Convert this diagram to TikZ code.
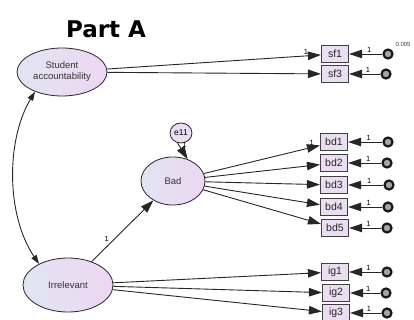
\documentclass[tikz,border=0pt]{standalone}
\usepackage{fontspec}
\setmainfont{Liberation Sans}
\newfontfamily\titlefont{DejaVu Sans}
\usetikzlibrary{arrows.meta,shapes.geometric}
\definecolor{latL}{RGB}{224,229,242}
\definecolor{latR}{RGB}{238,214,242}
\definecolor{obsF}{RGB}{236,222,242}
\begin{document}
\begin{tikzpicture}[x=1pt,y=-1pt,
 latent/.style={ellipse, draw=black!85, line width=0.8pt, left color=latL, right color=latR, inner sep=0pt, font=\fontsize{9.5}{11}\selectfont, align=center, text=black!80},
 obs/.style={rectangle, draw=black!75, line width=1.2pt, fill=obsF, minimum width=27pt, minimum height=17pt, inner sep=0pt, font=\fontsize{10.5}{10.5}\selectfont, text=black!85},
 err/.style={circle, draw=black!90, line width=2.2pt, fill=black!35, minimum size=9pt, inner sep=0pt},
 reg/.style={-{Triangle[length=13pt,width=8.5pt]}, line width=0.9pt, draw=black!85},
 lbl/.style={font=\fontsize{7.5}{7.5}\selectfont, inner sep=1pt}
]
\useasboundingbox (0,0) rectangle (414,320);
\node[font=\titlefont\bfseries\fontsize{23}{23}\selectfont] (title) at (106,29) {Part A};

\node[latent, minimum width=90pt, minimum height=48pt] (sa) at (62,72) {Student\\accountability};
\node[latent, minimum width=64pt, minimum height=48pt] (bad) at (173,181) {Bad};
\node[latent, minimum width=90pt, minimum height=54pt] (irr) at (68,285) {Irrelevant};
\node[ellipse, draw=black!85, line width=0.8pt, fill=obsF, minimum width=22pt, minimum height=20pt, inner sep=0pt, font=\fontsize{8.5}{8.5}\selectfont] (e11) at (181,133) {e11};

\node[obs] (sf1) at (335,54) {sf1};
\node[obs] (sf3) at (335,74) {sf3};
\node[obs] (bd1) at (334,142) {bd1};
\node[obs] (bd2) at (334,163) {bd2};
\node[obs] (bd3) at (334,185) {bd3};
\node[obs] (bd4) at (334,207) {bd4};
\node[obs] (bd5) at (335,228) {bd5};
\node[obs] (ig1) at (335,272) {ig1};
\node[obs] (ig2) at (336,293) {ig2};
\node[obs] (ig3) at (336,313) {ig3};

\node[err] (esf1) at (388,54) {};
\node[err] (esf3) at (386,74) {};
\node[err] (ebd1) at (388,142) {};
\node[err] (ebd2) at (387,163) {};
\node[err] (ebd3) at (389,185) {};
\node[err] (ebd4) at (388,207) {};
\node[err] (ebd5) at (387,228) {};
\node[err] (eig1) at (387,272) {};
\node[err] (eig2) at (386,293) {};
\node[err] (eig3) at (387,313) {};
\node[font=\fontsize{6}{6}\selectfont, text=black!75] (v005) at (403,44) {0.005};

% covariance
\draw[{Triangle[length=9pt,width=6pt]}-{Triangle[length=9pt,width=6pt]}, line width=0.9pt, draw=black!85]
  (sa.216) .. controls (6,140) and (6,215) .. (irr.144);

% structural
\draw[reg] (irr) -- node[lbl, pos=0.3, above left] {1} (bad);
\draw[reg] (e11.250) -- node[lbl, pos=0.15, right=2pt] {1} (bad.56);

% loadings
\draw[reg] (sa) -- node[lbl, pos=0.93, above] {1} (sf1);
\draw[reg] (sa) -- (sf3);
\draw[reg] (bad) -- node[lbl, pos=0.93, above] {1} (bd1);
\foreach \b in {bd2,bd3,bd4,bd5} \draw[reg] (bad) -- (\b);
\draw[reg] (irr) -- (ig1);
\draw[reg] (irr) -- (ig2);
\draw[reg] (irr) -- (ig3);

% errors
\foreach \e/\o in {esf1/sf1,esf3/sf3,ebd1/bd1,ebd2/bd2,ebd3/bd3,ebd4/bd4,ebd5/bd5,eig1/ig1,eig2/ig2,eig3/ig3}
  \draw[reg] (\e) -- node[lbl, pos=0.4, above] {1} (\o);
\end{tikzpicture}
\end{document}
